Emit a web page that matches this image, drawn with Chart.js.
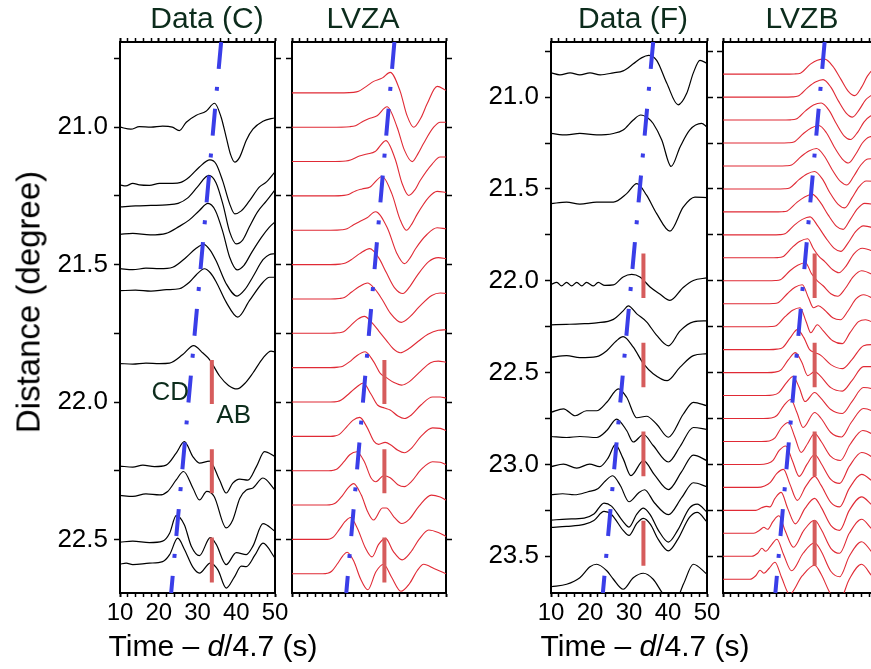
<!DOCTYPE html>
<html><head><meta charset="utf-8">
<script src="https://cdn.jsdelivr.net/npm/chart.js@4.4.1/dist/chart.umd.min.js"></script>
<style>
html,body{margin:0;padding:0;background:#fff;}
#page{position:relative;width:871px;height:669px;overflow:hidden;background:#fff;font-family:'Liberation Sans',Arial,sans-serif;}
canvas{position:absolute;top:0;}
.title{position:absolute;top:3px;font-size:30px;line-height:30px;color:#0c2c1c;white-space:nowrap;transform:translateX(-50%);}
.xlab{position:absolute;top:631px;font-size:30px;line-height:30px;color:#000;white-space:nowrap;transform:translateX(-50%);}
.ylab{position:absolute;font-size:33px;line-height:33px;color:#000;white-space:nowrap;transform:translate(-50%,-50%) rotate(-90deg);}
</style></head>
<body>
<div id="page">
<canvas id="cC" width="270" height="669" style="left:30px"></canvas>
<canvas id="cA" width="170" height="669" style="left:283px"></canvas>
<canvas id="cF" width="270" height="669" style="left:460px"></canvas>
<canvas id="cB" width="170" height="669" style="left:715px"></canvas>
<div class="title" style="left:207px">Data (C)</div>
<div class="title" style="left:363px">LVZA</div>
<div class="title" style="left:633px">Data (F)</div>
<div class="title" style="left:802px">LVZB</div>
<div class="xlab" style="left:213px">Time – <i>d</i>/4.7 (s)</div>
<div class="xlab" style="left:645px">Time – <i>d</i>/4.7 (s)</div>
<div class="ylab" style="left:28px;top:302px">Distance (degree)</div>
</div>
<script>
// ---------- tick values ----------
const xTicks = [10,12,14,16,18,20,22,24,26,28,30,32,34,36,38,40,42,44,46,48,50];
const yTicksC = [20.75,21.0,21.25,21.5,21.75,22.0,22.25,22.5];
const yTicksF = [20.75,21.0,21.25,21.5,21.75,22.0,22.25,22.5,22.75,23.0,23.25,23.5];

// ---------- Data (C): trace distances (deg) and waveforms [time s, normalised amplitude] ----------
const distC = [21.00, 21.21, 21.29, 21.39, 21.515, 21.595, 21.86, 22.235, 22.34, 22.51, 22.59];
const wavesC = [
 [[10,0],[12.8,-0.2],[15,0.05],[18,0],[21,0.1],[23.5,0],[25.3,-0.35],[27.1,0.5],[29.7,1.2],[32.2,1.6],[34.4,2.4],[36.1,1.0],[37.4,-1.0],[38.5,-2.7],[39.6,-3.5],[40.9,-3.0],[42.6,-1.3],[44.3,-0.2],[46.9,0.6],[50,0.95]],
 [[10,0],[11.5,-0.1],[13.3,0.15],[15,0],[17.6,-0.05],[20.2,0.15],[23.6,0.15],[25.7,0.25],[27.9,0.8],[30.5,1.8],[33.2,2.5],[34.8,2.1],[36.5,0.4],[38.3,-1.9],[39.6,-2.9],[41.3,-2.6],[43.4,-1.6],[46,-0.2],[47.8,0.3],[50,1.3]],
 [[10,0],[14,0.1],[18,0.15],[22,0.2],[25,0.35],[27.5,0.9],[30,2.0],[32.9,3.15],[34.8,2.4],[36.6,0.2],[38.3,-2.5],[40,-3.7],[41.7,-3.3],[43.4,-2.0],[45.5,-0.5],[47.8,0.6],[50,1.7]],
 [[10,0],[13.3,0.1],[17.8,-0.05],[21.9,0.1],[25.3,0.8],[27.9,1.45],[30.5,2.4],[32.7,3.1],[34.6,2.4],[36.5,0.3],[38.3,-2.3],[40.2,-3.55],[42,-3.1],[44,-1.8],[46.5,-0.3],[48.5,0.7],[50,1.25]],
 [[10,0],[13.3,-0.1],[16.7,0.05],[20.2,0],[23.6,0.15],[27.1,1.15],[29.5,2.0],[31.6,2.45],[33.2,1.9],[34.8,0.8],[37.4,-1.5],[40.2,-2.75],[42.2,-2.1],[44.3,-0.8],[46.9,0.9],[48.5,1.4],[50,1.5]],
 [[10,0],[14,0.05],[18,-0.05],[22,0.1],[25.3,0.2],[27.9,0.85],[29.7,1.6],[31.8,2.2],[33.3,1.8],[34.8,0.9],[37.4,-1.15],[40.4,-2.65],[43.4,-1.0],[46.9,0.85],[48.6,1.35],[50,1.35]],
 [[10,0],[13.3,-0.05],[16.7,0.05],[20.2,0],[22.8,0.05],[26.2,0.9],[29,1.8],[31.4,1.05],[33.1,0.4],[35.7,-1.25],[38,-2.2],[40.2,-2.55],[42.2,-2.0],[44.3,-0.95],[46.9,0.55],[49,1.25],[50,1.15]],
 [[10,0.05],[13.3,-0.05],[15.9,0.15],[18.9,0],[21.9,0.15],[24.5,1.35],[26.6,2.5],[28.8,1.0],[30.5,0.35],[33.1,0.55],[35.7,-1.35],[37.4,-2.65],[39.1,-1.65],[40.9,-1.25],[43,-1.35],[45.2,0],[47.3,1.5],[50,1.0]],
 [[10,0],[13.3,-0.1],[16.7,0.15],[20.2,0.05],[22.3,0.4],[24.5,1.55],[26.4,2.4],[28.8,0.75],[30.5,-0.45],[32.4,0.4],[34.3,-0.1],[37.4,-3.25],[39.1,-2.45],[40.9,-0.3],[42.6,0.55],[44.3,0.75],[46.9,1.75],[50,0.55]],
 [[10,0],[13.3,0.1],[17.6,-0.05],[21,0.1],[22.8,0.9],[24.5,2.65],[26.6,1.75],[28.4,-0.4],[30.5,-1.35],[33.3,0.45],[34.8,-0.2],[37.4,-2.25],[40,-1.05],[42.6,-1.25],[44.3,-0.4],[46.9,1.85],[50,1.1]],
 [[10,0],[11.6,0.1],[13.3,-0.05],[17.6,0.1],[21,0.25],[22.8,0.95],[24.9,2.6],[26.6,1.5],[28.8,-0.3],[30.5,-0.9],[33.3,0.1],[35.3,-0.6],[37.4,-2.4],[39.5,-1.3],[41.3,-0.2],[42.6,-0.25],[44.8,0.9],[46.9,2.1],[50,0.6]]
];

// ---------- LVZA synthetics ----------
const distA = [20.875,21.0,21.125,21.25,21.375,21.5,21.625,21.75,21.875,22.0,22.125,22.25,22.375,22.5,22.625];
const wavesA = [
 [[10,0],[20,0],[26,0.05],[27.3,0.15],[29.5,0.7],[31.2,1.15],[33.5,1.5],[35.5,2.05],[38.1,0.15],[39.8,-2.2],[41.6,-3.45],[43.5,-2.5],[45.1,-1.1],[47.7,0.65],[50,0.25]],
 [[10,0],[20,0],[25,0.05],[26.5,0.15],[28.5,0.6],[29.9,0.85],[32.1,1.15],[34.7,2.05],[37.3,0],[39.2,-2.3],[41.2,-3.45],[42.8,-2.6],[44.2,-1.6],[46.8,0],[48.5,0.5],[50,0.5]],
 [[10,0],[20,0],[24,0.05],[25.2,0.15],[27.5,0.55],[29.5,0.75],[31.6,1.0],[34.4,2.1],[36.8,0.25],[38.6,-2.2],[40.3,-3.4],[42,-2.8],[43.3,-1.9],[46.4,-0.25],[48.5,0.45],[50,0.45]],
 [[10,0],[20,0],[23.5,0.05],[24.7,0.15],[26.5,0.5],[28.2,0.7],[30.3,0.9],[33.4,1.95],[36,0.15],[38,-2.3],[39.7,-3.45],[41.3,-2.7],[42.5,-1.85],[45.5,-0.15],[47.7,0.45],[50,0.35]],
 [[10,0],[20,0],[23,0.05],[24.3,0.15],[26,0.55],[27.7,0.9],[29.5,1.25],[31.7,1.85],[34.8,0.2],[37.2,-2.3],[39.2,-3.35],[40.8,-2.7],[42,-1.9],[45.1,-0.4],[47.7,0.25],[50,0.15]],
 [[10,0],[20,0],[22.5,0.05],[23.9,0.15],[25.8,0.6],[27.6,1.1],[30.2,1.6],[32.5,0.7],[34.5,-0.8],[36.6,-2.3],[38.8,-2.9],[40.6,-2.2],[42.5,-1.1],[45.5,0.3],[48,0.7],[50,0.6]],
 [[10,0],[20,0],[22.3,0.05],[23.6,0.15],[25.5,0.7],[27.5,1.25],[29.6,1.6],[31.5,1.0],[33.5,-0.1],[35.5,-1.4],[38.4,-2.35],[40.6,-1.8],[43,-0.8],[46.3,0.35],[48.5,0.6],[50,0.55]],
 [[10,0],[20,0],[22,0.05],[23.4,0.15],[25.3,0.8],[27,1.4],[28.8,1.7],[30.7,1.1],[32.6,0.2],[34.5,-0.7],[36.3,-1.55],[38.1,-1.95],[40.3,-1.55],[42.8,-0.8],[45.3,-0.1],[48,0.3],[50,0.35]],
 [[10,0],[20,0],[22,0.05],[23.2,0.15],[25,0.6],[26.5,1.1],[29,1.6],[31.2,0.6],[33,-0.6],[34.5,-1.0],[36.5,-1.5],[38.5,-1.75],[40.5,-1.4],[43,-0.5],[46,0.5],[48,0.65],[50,0.55]],
 [[10,0],[20,0],[21.8,0.05],[22.8,0.2],[25,0.9],[26.8,1.5],[28.5,1.9],[30.5,0.8],[32.2,-0.3],[34,-0.6],[35.5,-0.8],[37.5,-1.4],[39.2,-1.65],[41,-1.3],[43.5,-0.3],[46.5,0.5],[48.5,0.5],[50,0.4]],
 [[10,0],[20,0],[21.2,0.05],[22.3,0.2],[24.3,1.0],[25.8,1.6],[27.6,1.9],[29.5,0.9],[31.3,-0.5],[32.5,-0.8],[34.2,-0.6],[35.8,-0.9],[37.5,-1.4],[39.2,-1.65],[41,-1.2],[43.5,0],[46.5,0.85],[48.5,0.8],[50,0.6]],
 [[10,0],[19.5,0],[20.8,0.05],[21.8,0.2],[23.5,0.9],[25,1.6],[26.8,1.9],[28.8,0.9],[30.5,-0.7],[31.8,-1.1],[33.8,-0.5],[35.5,-0.7],[37.5,-1.4],[39.2,-1.6],[41,-1.1],[43.5,0.1],[46.5,0.9],[48.5,0.85],[50,0.6]],
 [[10,0],[19,0],[20.3,0.05],[21.3,0.2],[23,0.9],[24.5,1.7],[26,2.15],[28,1.0],[29.7,-0.7],[31.2,-1.5],[33.5,-0.3],[34.5,-0.3],[36.5,-1.2],[38.5,-1.85],[40.5,-1.4],[43,-0.1],[46.2,1.0],[48.5,0.8],[50,0.5]],
 [[10,0],[18.5,0],[19.8,0.05],[20.8,0.25],[22.3,1.0],[23.8,1.8],[25.2,2.2],[27,1.1],[29,-0.8],[30.8,-1.75],[32.5,-0.5],[34.3,0.1],[36.3,-1.2],[38.6,-2.05],[40.8,-1.3],[43,0],[45.5,0.95],[48,0.7],[50,0.3]],
 [[10,0],[18,0],[19.2,0.05],[20.3,0.25],[21.8,1.0],[23.2,1.8],[24.3,2.15],[26,1.3],[27.8,-0.5],[29.7,-1.6],[31.8,0.2],[33.8,0.95],[35.8,-0.3],[38.3,-1.75],[40.5,-1.0],[42.5,0.3],[44.2,0.95],[47,0.5],[50,0]]
];

// ---------- Data (F) ----------
const distF = [20.868, 21.198, 21.58, 22.02, 22.24, 22.416, 22.716, 22.848, 23.012, 23.165, 23.303, 23.343, 23.666];
const wavesF = [
 [[10,0],[12.3,-0.2],[14.9,0],[17.4,-0.2],[20,0],[22.6,-0.2],[26,0],[28.5,0.2],[31.1,0.9],[33.2,1.5],[35,1.75],[37.1,1.25],[39.7,-1.05],[42.6,-3.2],[44.8,-2.05],[46.5,0],[48.2,1.25],[50,0.95]],
 [[10,0],[14,-0.15],[17.4,0],[21.7,-0.15],[26,0],[28.5,0.35],[31.1,1.35],[33,1.85],[35,1.5],[36.2,1.0],[38.4,-0.65],[40.8,-3.3],[43.1,-1.35],[45.6,0.35],[48.6,1.0],[50,0.65]],
 [[10,0],[14,0.15],[17.4,-0.05],[21.7,0.15],[26,0.15],[29.4,1.0],[32,2.0],[34.5,0.85],[37.1,-1.0],[40.5,-2.75],[43.9,-0.35],[46.9,0.65],[50,0.6]],
 [[10,0],[11.5,0.2],[12.7,-0.15],[14,0.2],[15.3,-0.15],[16.6,0.2],[17.9,-0.15],[19.1,0.2],[20.9,-0.15],[22.1,0.2],[23.8,-0.1],[26,-0.05],[28.5,0.75],[30.7,1.0],[32.8,0.75],[35.4,-0.25],[37.9,-0.95],[40.5,-1.6],[43.9,-0.3],[46.5,0.4],[50,0.65]],
 [[10,0],[14,0.05],[17.4,0.1],[21.7,0.2],[26,0.55],[28.5,1.4],[29.8,1.9],[32,1.1],[34.5,0.3],[37,-1.0],[40.1,-2.1],[43.1,-0.6],[46.5,0.3],[50,0.4]],
 [[10,0],[14,0.15],[17.4,-0.05],[21.7,0.05],[24.3,0.65],[26.8,1.65],[28.5,2.05],[31.1,1.0],[33.7,-0.65],[36.2,-1.65],[39.8,-2.35],[43.1,-1.0],[46.5,0.15],[50,0.35]],
 [[10,0],[13.2,0.35],[16.2,-0.35],[19.1,0.15],[21.7,0.15],[24.3,1.0],[27.3,2.35],[29.4,1.5],[32,-0.55],[34.5,-0.4],[37.1,-1.2],[40.1,-2.5],[43.9,-0.2],[46.5,1.0],[50,0.65]],
 [[10,0],[14,-0.1],[17.4,0],[21.7,-0.1],[24.3,0.6],[26.8,1.75],[29.4,0.6],[31.1,-0.55],[33.7,0.2],[36.2,-0.9],[40.1,-2.55],[43.1,-1.0],[46.5,0.9],[50,0.7]],
 [[10,0],[13.2,0.25],[16.6,-0.15],[19.9,0.25],[22.5,0],[24.7,0.9],[26.5,2.2],[28.5,0.8],[30.5,-0.9],[33.7,0.6],[36.5,-0.8],[40.1,-2.3],[43.5,-0.5],[46.5,1.15],[50,0.6]],
 [[10,0],[13,0.1],[16,0],[19.5,0.3],[22,0.6],[24,1.4],[25.8,1.9],[27.8,0.9],[30,-0.7],[32.5,0.2],[34,0.5],[36.5,-0.8],[40.1,-2.0],[43.5,-0.3],[46.5,1.2],[50,0.8]],
 [[10,0],[14,0.1],[18.5,0.2],[21,0.6],[23.6,1.7],[25.5,1.4],[28.5,-0.15],[30,-0.7],[32,0.6],[33.7,1.2],[35.5,0.5],[37.5,-1.0],[40.1,-2.2],[42.5,-1.0],[45.5,1.2],[47.5,1.6],[50,0.8]],
 [[10,0],[14,0.1],[18.5,0.3],[21,0.7],[23.6,1.6],[25.5,1.3],[28.5,-0.3],[30,-0.8],[32,0.4],[33.7,0.9],[35.5,0.3],[37.5,-1.2],[40.1,-2.35],[42.5,-1.2],[45.5,1.0],[47.5,1.5],[50,0.55]],
 [[10,0],[14,0.25],[17.4,0.9],[20,2.0],[21.7,2.25],[24.3,1.6],[26,0.75],[28.5,-0.25],[31.1,0.9],[33.7,1.35],[36.2,0.75],[38.8,-0.75],[41.5,-1.7],[44,0.3],[46.5,2.25],[50,1.25]]
];

// ---------- LVZB synthetics ----------
const distB = [20.875,21.0,21.125,21.25,21.375,21.5,21.625,21.75,21.875,22.0,22.125,22.25,22.375,22.5,22.625,22.75,22.875,23.0,23.125,23.25,23.375,23.5,23.625];
const wavesB = [
 [[10,0],[26,0],[28.5,0.02],[30.1,0.1],[32.7,1.0],[34.5,1.4],[36.4,1.5],[38.5,0.8],[40.6,-0.5],[42.5,-1.7],[44.2,-2.15],[46,-1.3],[47.5,-0.2],[49,0.5],[50,0.8]],
 [[10,0],[25.5,0],[28,0.02],[29.5,0.1],[32,0.95],[34,1.5],[36,1.75],[38,1.0],[40,-0.4],[42,-1.6],[43.6,-2.0],[45.4,-1.25],[47,-0.3],[48.6,0.2],[50,0.55]],
 [[10,0],[25,0],[27.5,0.02],[29,0.1],[31.5,0.95],[33.5,1.5],[35.5,1.7],[37.5,1.0],[39.5,-0.4],[41.5,-1.6],[43.1,-1.95],[45,-1.2],[46.6,-0.2],[48.3,0.4],[50,0.6]],
 [[10,0],[24.5,0],[27,0.02],[28.4,0.1],[30.9,0.95],[32.9,1.5],[34.9,1.75],[36.9,1.0],[38.9,-0.4],[41,-1.6],[42.6,-2.0],[44.5,-1.1],[46.2,0],[48,0.6],[50,0.7]],
 [[10,0],[24,0],[26.5,0.02],[27.8,0.1],[30.3,0.95],[32.3,1.5],[34.3,1.75],[36.3,1.0],[38.4,-0.4],[40.5,-1.55],[42.2,-1.9],[44,-1.0],[45.8,0.1],[47.6,0.7],[50,0.75]],
 [[10,0],[23.5,0],[26,0.02],[27.3,0.1],[29.8,0.95],[31.8,1.5],[33.8,1.75],[35.8,1.0],[37.8,-0.4],[39.9,-1.55],[41.6,-1.9],[43.5,-0.9],[45.3,0.2],[47.2,0.8],[50,0.75]],
 [[10,0],[23,0],[25.4,0.02],[26.7,0.1],[29.2,0.95],[31.2,1.5],[33.2,1.75],[35.2,1.0],[37.3,-0.3],[39.5,-1.45],[41.2,-1.75],[43,-0.8],[44.9,0.3],[46.8,0.85],[50,0.7]],
 [[10,0],[22.5,0],[24.8,0.02],[26.1,0.1],[28.6,1.0],[30.6,1.55],[32.6,1.8],[34.6,0.9],[36.7,-0.3],[38.9,-1.35],[40.6,-1.65],[42.5,-0.8],[44.5,0.35],[46.5,0.9],[50,0.6]],
 [[10,0],[22,0],[24.2,0.02],[25.5,0.1],[28,1.05],[30,1.65],[32,1.9],[33.5,0.9],[34.8,0.2],[36.5,-0.4],[38.5,-1.2],[40.1,-1.5],[42,-0.8],[44,0.4],[46.2,0.95],[50,0.5]],
 [[10,0],[21.5,0],[23.6,0.02],[24.9,0.1],[27.4,1.0],[29.4,1.55],[31.4,1.8],[33,0.7],[34.5,0],[36,-0.5],[38,-1.3],[39.8,-1.55],[41.7,-0.8],[43.8,0.4],[46,1.0],[50,0.4]],
 [[10,0],[21,0],[23,0.02],[24.3,0.1],[26.7,1.0],[28.7,1.65],[30.6,1.9],[32.2,0.6],[33.5,-0.4],[34.8,-0.2],[36.3,-0.6],[38.5,-1.4],[40.5,-1.6],[42.5,-0.7],[44.6,0.5],[46.5,0.9],[50,0.3]],
 [[10,0],[20.5,0],[22.5,0.02],[23.8,0.1],[26.1,1.0],[28.1,1.65],[30,1.9],[31.6,0.5],[32.8,-0.6],[34.5,0.2],[36,-0.4],[38.5,-1.4],[41,-1.7],[43,-0.6],[45.2,0.5],[47,0.7],[50,0.2]],
 [[10,0],[22,0],[24,0.05],[25.5,0.2],[27.5,1.2],[29.3,2.0],[31,1.2],[32.5,0],[34,-0.3],[35.5,-0.6],[38,-1.5],[41,-1.9],[43.5,-1.0],[46.5,0.4],[48.5,0.5],[50,0.3]],
 [[10,0],[21.5,0],[23.5,0.05],[25,0.25],[27,1.3],[28.8,2.0],[30.5,1.0],[32,-0.3],[33.8,0.1],[35.2,-0.3],[38,-1.5],[41,-1.85],[43.5,-0.8],[46.5,0.6],[48.5,0.6],[50,0.3]],
 [[10,0],[21,0],[23,0.05],[24.5,0.3],[26.5,1.3],[28.2,1.9],[29.8,0.8],[31.3,-0.6],[33.8,0.3],[35.3,-0.2],[38,-1.4],[41,-1.8],[43.5,-0.6],[46.5,0.8],[48.5,0.7],[50,0.4]],
 [[10,0],[20.5,0],[22.5,0.05],[24,0.3],[25.8,1.3],[27.6,1.9],[29.2,0.6],[30.8,-0.9],[33.8,0.6],[35.5,0],[38,-1.4],[40.8,-1.85],[43.3,-0.4],[46.5,1.0],[48.5,0.8],[50,0.4]],
 [[10,0],[20,0],[22,0.05],[23.5,0.35],[25.2,1.4],[27,1.9],[28.6,0.5],[30.3,-1.1],[32,-0.2],[33.8,0.8],[35.5,0],[38,-1.5],[40.5,-1.9],[43,-0.3],[46.3,1.1],[48.5,0.8],[50,0.3]],
 [[10,0],[19.5,0],[21.5,0.1],[23,0.4],[24.6,1.4],[26.3,1.85],[28,0.4],[29.8,-1.2],[31.8,0],[33.8,1.0],[35.5,0.1],[38,-1.5],[40.3,-1.9],[42.8,-0.2],[46,1.2],[48.5,0.8],[50,0.2]],
 [[10,0],[19,0],[20.8,0.15],[22.3,0.5],[24,1.4],[25.7,1.8],[27.4,0.3],[29.3,-1.3],[31.5,0.1],[33.8,1.1],[35.5,0.2],[38,-1.5],[40.3,-1.95],[42.8,-0.1],[46,1.3],[48.5,0.7],[50,0.1]],
 [[10,0],[18.5,0],[20,0.25],[21.3,0.4],[22.2,0.35],[23.5,1.2],[25.1,1.8],[26.8,0.2],[28.8,-1.35],[31.3,0.2],[33.8,1.2],[35.5,0.3],[38,-1.5],[40.3,-2.0],[42.8,0],[46,1.35],[48.5,0.6],[50,0]],
 [[10,0],[18,0],[19.5,0.3],[20.6,0.6],[21.6,0.4],[23,1.2],[24.5,1.75],[26.2,0.2],[28.3,-1.4],[31,0.3],[33.8,1.3],[35.5,0.4],[38,-1.5],[40.3,-2.0],[42.8,0],[46,1.4],[48.5,0.5],[50,-0.1]],
 [[10,0],[17.5,0],[19,0.3],[20.1,0.8],[21.1,0.5],[22.5,1.1],[24,1.7],[25.7,0.2],[27.8,-1.45],[30.8,0.3],[33.8,1.35],[35.5,0.5],[38,-1.5],[40.3,-2.05],[42.8,0],[46,1.45],[48.5,0.5],[50,-0.2]],
 [[10,0],[17,0],[18.5,0.35],[19.6,0.9],[20.6,0.6],[22,1.1],[23.5,1.7],[25.2,0.2],[27.3,-1.5],[30.5,0.3],[33.8,1.4],[35.5,0.5],[38,-1.5],[40.3,-2.1],[42.8,0],[46,1.5],[48.5,0.4],[50,-0.3]]
];

// ---------- picked phases: blue dash-dot (CD) line endpoints [time, distance] ----------
const blueC = [[36.1, 20.69], [23.2, 22.695]];
const blueA = [[36.6, 20.69], [24.1, 22.695]];
const blueF = [[36.2, 20.70], [23.3, 23.70]];
const blueB = [[36.4, 20.70], [23.6, 23.70]];
// ---------- red AB markers: time and distance spans ----------
const redTimeC = 33.7, redTimeA = 34.0, redTimeF = 33.7, redTimeB = 33.8;
const redSpansC = [[21.847, 22.007], [22.172, 22.332], [22.493, 22.657]];
const redSpansF = [[21.852, 22.094], [22.337, 22.580], [22.821, 23.065], [23.306, 23.552]];

// ---------- styling / layout ----------
const FONT = "'Liberation Sans', Arial, sans-serif";
const BLUE = '#3a3ee8', RED_BAR = '#d65c5c', BLACK = '#000', RED_TRACE = '#e02a35';
const GAIN_CA = 0.0363, GAIN_FB = 0.0544;

const phaseLabelPlugin = {
  id: 'phaseLabels',
  afterDatasetsDraw(chart, args, opts) {
    if (!opts || !opts.items) return;
    const {ctx, scales} = chart;
    ctx.save();
    ctx.font = '26px ' + FONT;
    ctx.fillStyle = '#0c2c1c';
    ctx.textAlign = 'left';
    ctx.textBaseline = 'alphabetic';
    opts.items.forEach(it => ctx.fillText(it.text, scales.x.getPixelForValue(it.t), scales.y.getPixelForValue(it.d)));
    ctx.restore();
  }
};

function xAxis(pos, showLabels, h) {
  return {
    type: 'linear', position: pos, min: 10, max: 50,
    afterBuildTicks: ax => { ax.ticks = xTicks.map(v => ({value: v})); },
    ticks: {display: showLabels, autoSkip: false, maxRotation: 0, minRotation: 0, padding: 2, color: '#000',
      font: {family: FONT, size: 24}, callback: v => (v % 10 === 0 ? String(v) : '')},
    grid: {display: true, drawOnChartArea: false, drawTicks: true, tickLength: 4, color: '#000', tickColor: '#000',
      tickWidth: c => (c.tick && c.tick.value % 10 === 0 ? 2 : 1.5)},
    border: {display: true, width: 2, color: '#000'},
    afterFit: s => { s.height = h; s.paddingLeft = 0; s.paddingRight = 0; }
  };
}
function yAxis(pos, showLabels, ticksArr, min, max, w) {
  return {
    type: 'linear', position: pos, reverse: true, min: min, max: max,
    afterBuildTicks: ax => { ax.ticks = ticksArr.map(v => ({value: v})); },
    ticks: {display: showLabels, autoSkip: false, padding: 6, color: '#000', font: {family: FONT, size: 26},
      callback: v => (Math.abs(v * 2 - Math.round(v * 2)) < 1e-6 ? v.toFixed(1) : '')},
    grid: {display: true, drawOnChartArea: false, drawTicks: true, tickLength: 6, color: '#000', tickColor: '#000', tickWidth: 1.5},
    border: {display: true, width: 2, color: '#000'},
    afterFit: s => { s.width = w; s.paddingTop = 0; s.paddingBottom = 0; }
  };
}

function makePanel(id, p) {
  const datasets = [];
  p.dist.forEach((d, i) => {
    datasets.push({
      data: p.waves[i].map(pt => ({x: pt[0], y: d - pt[1] * p.gain})),
      borderColor: p.color, borderWidth: p.lw, pointRadius: 0, fill: false,
      cubicInterpolationMode: 'monotone', order: 2
    });
  });
  datasets.push({
    data: p.blue.map(pt => ({x: pt[0], y: pt[1]})),
    borderColor: BLUE, borderWidth: 4, borderDash: [27, 18, 4, 18], borderCapStyle: 'butt',
    pointRadius: 0, tension: 0, fill: false, order: 0
  });
  p.red.forEach(r => datasets.push({
    data: [{x: p.redT, y: r[0]}, {x: p.redT, y: r[1]}],
    borderColor: RED_BAR, borderWidth: 4, pointRadius: 0, tension: 0, fill: false, order: 1
  }));
  new Chart(document.getElementById(id), {
    type: 'line',
    data: {datasets},
    plugins: [phaseLabelPlugin],
    options: {
      responsive: false, animation: false, events: [],
      layout: {padding: 0},
      plugins: {legend: {display: false}, title: {display: false}, tooltip: {enabled: false},
        phaseLabels: {items: p.labels || null}},
      scales: {
        x: xAxis('bottom', p.xLabels, 76),
        x2: xAxis('top', false, 42),
        y: yAxis('left', p.yLabels, p.yTicks, p.ymin, p.ymax, p.yW),
        y2: yAxis('right', false, p.yTicks, p.ymin, p.ymax, p.y2W)
      }
    }
  });
}

makePanel('cC', {dist: distC, waves: wavesC, gain: GAIN_CA, color: BLACK, lw: 1.2, blue: blueC, red: redSpansC, redT: redTimeC,
  xLabels: true, yLabels: true, yTicks: yTicksC, ymin: 20.69, ymax: 22.695, yW: 90, y2W: 25,
  labels: [{text: 'CD', t: 18.1, d: 21.993}, {text: 'AB', t: 34.86, d: 22.078}]});
makePanel('cA', {dist: distA, waves: wavesA, gain: GAIN_CA, color: RED_TRACE, lw: 1.1, blue: blueA, red: redSpansC, redT: redTimeA,
  xLabels: false, yLabels: false, yTicks: yTicksC, ymin: 20.69, ymax: 22.695, yW: 9, y2W: 7});
makePanel('cF', {dist: distF, waves: wavesF, gain: GAIN_FB, color: BLACK, lw: 1.2, blue: blueF, red: redSpansF, redT: redTimeF,
  xLabels: true, yLabels: true, yTicks: yTicksF, ymin: 20.70, ymax: 23.70, yW: 91, y2W: 23});
makePanel('cB', {dist: distB, waves: wavesB, gain: GAIN_FB, color: RED_TRACE, lw: 1.1, blue: blueB, red: redSpansF, redT: redTimeB,
  xLabels: false, yLabels: false, yTicks: yTicksF, ymin: 20.70, ymax: 23.70, yW: 8, y2W: 8});
</script>
</body></html>
